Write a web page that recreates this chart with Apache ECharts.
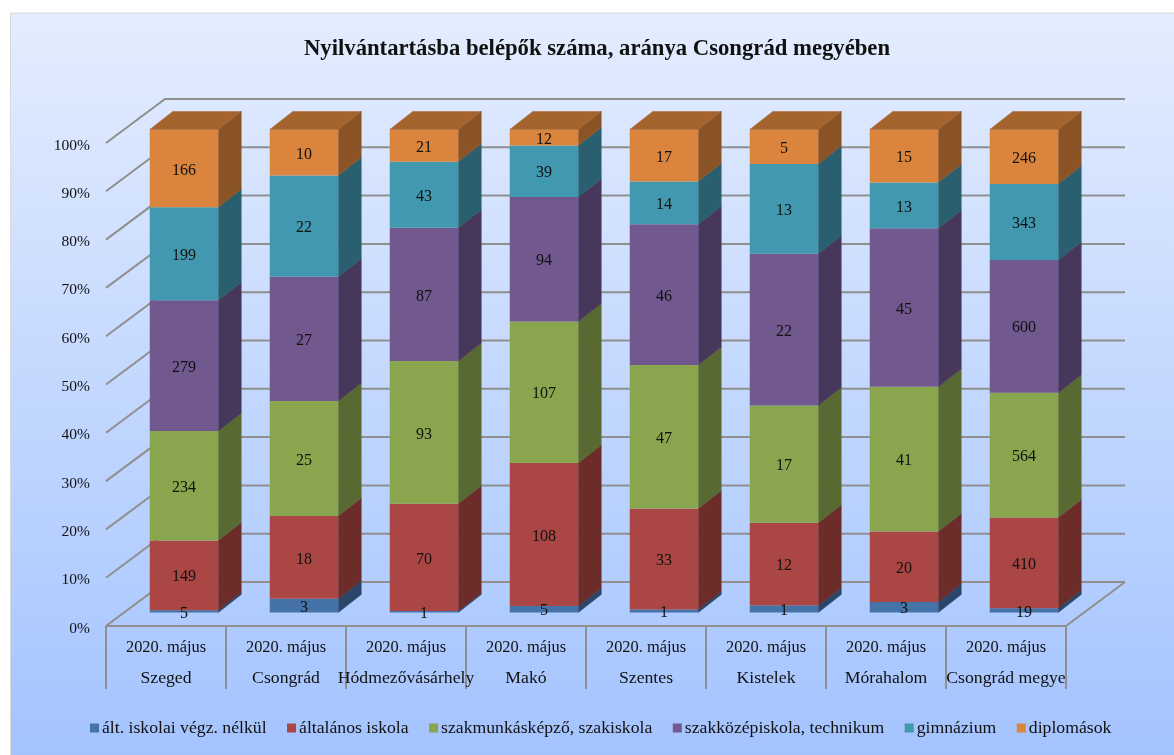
<!DOCTYPE html>
<html>
<head>
<meta charset="utf-8">
<style>html,body{margin:0;padding:0;background:#fff}#main{width:1174px;height:755px}</style>
<script src="https://cdn.jsdelivr.net/npm/echarts@6/dist/echarts.min.js"></script>
</head>
<body>
<div id="main"></div>
<script>
var cities = ['Szeged', 'Csongrád', 'Hódmezővásárhely', 'Makó', 'Szentes', 'Kistelek', 'Mórahalom', 'Csongrád megye'];
var period = '2020. május';
var yTicks = [0, 10, 20, 30, 40, 50, 60, 70, 80, 90, 100];

var altIskolaiNelkul = [5, 3, 1, 5, 1, 1, 3, 19];
var altalanos = [149, 18, 70, 108, 33, 12, 20, 410];
var szakmunkas = [234, 25, 93, 107, 47, 17, 41, 564];
var szakkozep = [279, 27, 87, 94, 46, 22, 45, 600];
var gimnazium = [199, 22, 43, 39, 14, 13, 13, 343];
var diplomasok = [166, 10, 21, 12, 17, 5, 15, 246];

var levels = [
    {name: 'ált. iskolai végz. nélkül', values: altIskolaiNelkul, color: '#4572a7', side: '#2b4669', top: '#345680'},
    {name: 'általános iskola', values: altalanos, color: '#aa4643', side: '#6c2c2a', top: '#803532'},
    {name: 'szakmunkásképző, szakiskola', values: szakmunkas, color: '#89a54e', side: '#586a31', top: '#677c3a'},
    {name: 'szakközépiskola, technikum', values: szakkozep, color: '#71588f', side: '#47375b', top: '#55426c'},
    {name: 'gimnázium', values: gimnazium, color: '#4198af', side: '#295f6f', top: '#317284'},
    {name: 'diplomások', values: diplomasok, color: '#db843d', side: '#8b5426', top: '#a5642e'}
];

// depth of the fake 3d box, in pixels
var wallDx = 59, wallDy = -44;
var barDx = 23, barDy = -18;
var barShiftX = 18, barShiftY = -13.5, barWidth = 68.5;
var gridColor = '#8f8f8f';
var fontName = '"Liberation Serif", serif';

var chart = echarts.init(document.getElementById('main'));

function renderWall(params, api) {
    var y = api.value(0);
    var left = api.coord([0, y]);
    var band = api.size([1, 0])[0];
    var x0 = left[0] - band / 2;
    var x1 = x0 + band * cities.length;
    var children = [{
        type: 'polyline',
        shape: {points: [[x0, left[1]], [x0 + wallDx, left[1] + wallDy], [x1 + wallDx, left[1] + wallDy]]},
        style: {fill: null, stroke: gridColor, lineWidth: 2}
    }];
    if (y === 0) {
        children.push({
            type: 'line',
            shape: {x1: x1, y1: left[1], x2: x1 + wallDx, y2: left[1] + wallDy},
            style: {stroke: gridColor, lineWidth: 2}
        });
    }
    return {type: 'group', children: children};
}

function renderSegment(params, api) {
    var lvl = levels[params.seriesIndex - 1];
    var cat = api.value(0);
    var low = api.coord([cat, api.value(1)]);
    var high = api.coord([cat, api.value(2)]);
    var x0 = low[0] + barShiftX - barWidth / 2;
    var x1 = x0 + barWidth;
    var y0 = low[1] + barShiftY;
    var y1 = high[1] + barShiftY;
    var children = [{
        type: 'polygon',
        shape: {points: [[x1, y0], [x1 + barDx, y0 + barDy], [x1 + barDx, y1 + barDy], [x1, y1]]},
        style: {fill: lvl.side, stroke: lvl.side, lineWidth: 0.5}
    }, {
        type: 'rect',
        shape: {x: x0, y: y1, width: barWidth, height: y0 - y1},
        style: {fill: lvl.color}
    }];
    if (params.seriesIndex === levels.length) {
        children.push({
            type: 'polygon',
            shape: {points: [[x0, y1], [x0 + barDx, y1 + barDy], [x1 + barDx, y1 + barDy], [x1, y1]]},
            style: {fill: lvl.top, stroke: lvl.top, lineWidth: 0.5}
        });
    }
    children.push({
        type: 'text',
        z2: 50,
        style: {
            x: (x0 + x1) / 2,
            y: (y0 + y1) / 2 + 2,
            text: String(api.value(3)),
            align: 'center',
            verticalAlign: 'middle',
            font: '16px ' + fontName,
            fill: '#111'
        }
    });
    return {type: 'group', children: children};
}

var series = [{
    type: 'custom',
    name: 'wall',
    renderItem: renderWall,
    silent: true,
    encode: {y: 0},
    data: yTicks.map(function (t) { return [t]; }),
    z: 1
}];

var totals = cities.map(function (c, i) {
    return levels.reduce(function (sum, lvl) { return sum + lvl.values[i]; }, 0);
});
var running = cities.map(function () { return 0; });

levels.forEach(function (lvl) {
    series.push({
        type: 'custom',
        name: lvl.name,
        renderItem: renderSegment,
        encode: {x: 0, y: [1, 2]},
        itemStyle: {color: lvl.color},
        data: lvl.values.map(function (v, i) {
            var from = running[i] / totals[i] * 100;
            running[i] += v;
            return [i, from, running[i] / totals[i] * 100, v];
        }),
        z: 2
    });
});

var option = {
    animation: false,
    backgroundColor: '#fff',
    graphic: [{
        type: 'rect',
        silent: true,
        z: -10,
        shape: {x: 10.5, y: 13, width: 1170, height: 750},
        style: {
            stroke: '#d9d9d9',
            lineWidth: 1,
            fill: new echarts.graphic.LinearGradient(0, 0, 0, 1, [
                {offset: 0, color: '#e4edfe'},
                {offset: 1, color: '#a3c3ff'}
            ])
        }
    }],
    title: {
        text: 'Nyilvántartásba belépők száma, aránya Csongrád megyében',
        left: 592,
        top: 33,
        textAlign: 'center',
        textStyle: {fontFamily: fontName, fontWeight: 'bold', fontSize: 22.7, color: '#111'}
    },
    legend: {
        data: levels.map(function (l) { return l.name; }),
        left: 85,
        top: 714,
        icon: 'rect',
        itemWidth: 9,
        itemHeight: 9,
        itemGap: 20.5,
        textStyle: {fontFamily: fontName, fontSize: 17.7, color: '#111', padding: [0, 0, 0, -2]}
    },
    grid: {left: 106, top: 143, width: 960, height: 483},
    xAxis: {
        type: 'category',
        data: cities,
        axisLine: {show: true, lineStyle: {color: gridColor, width: 2}},
        axisTick: {show: true, interval: 0, alignWithLabel: false, length: 63, lineStyle: {color: gridColor, width: 2}},
        axisLabel: {
            interval: 0,
            margin: 6,
            formatter: function (name) {
                return '{month|' + period + '}\n{city|' + name + '}';
            },
            rich: {
                month: {fontFamily: fontName, fontSize: 16.4, lineHeight: 31, color: '#111'},
                city: {fontFamily: fontName, fontSize: 17.7, lineHeight: 31, color: '#111'}
            }
        }
    },
    yAxis: {
        type: 'value',
        min: 0,
        max: 100,
        interval: 10,
        axisLine: {show: false},
        axisTick: {show: false},
        splitLine: {show: false},
        axisLabel: {
            margin: 16,
            formatter: '{v|{value}%}',
            rich: {
                v: {fontFamily: fontName, fontSize: 15.5, color: '#111', padding: [5, 0, 0, 0]}
            }
        }
    },
    series: series
};

chart.setOption(option);

window.onresize = chart.resize;
</script>
</body>
</html>
